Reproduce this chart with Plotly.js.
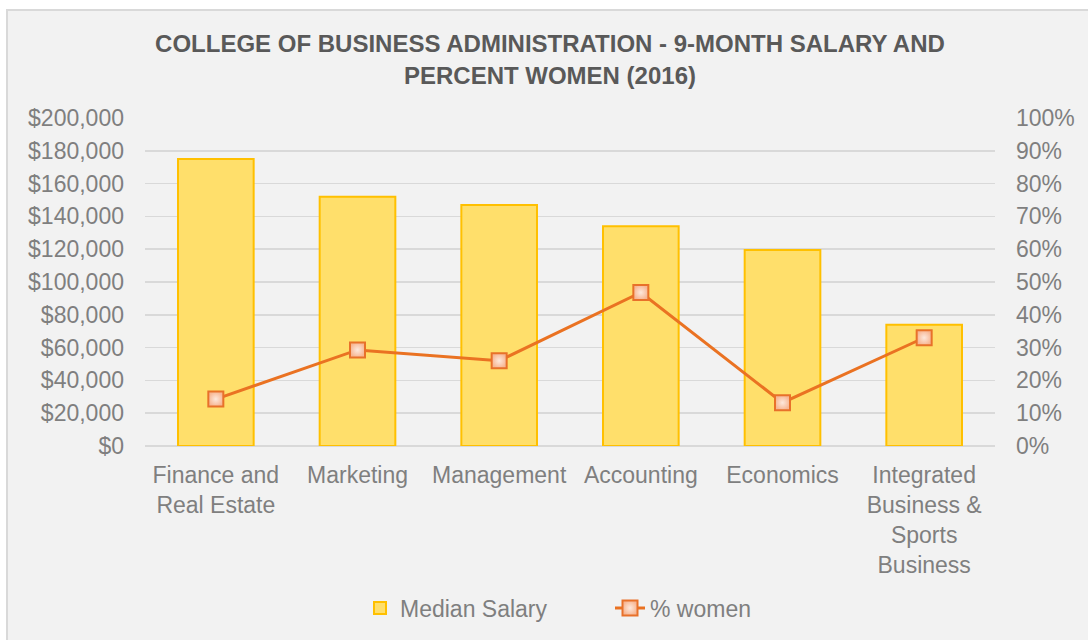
<!DOCTYPE html>
<html>
<head>
<meta charset="utf-8">
<script src="https://cdn.plot.ly/plotly-3.0.1.min.js"></script>
<style>
  html, body { margin: 0; padding: 0; background: #ffffff; width: 1088px; height: 640px; overflow: hidden; }
  #bg { position: absolute; left: 6px; top: 9px; width: 1100px; height: 660px; background: #f2f2f2; border: 2px solid #d9d9d9; box-sizing: border-box; }
  #chart { position: absolute; left: 0; top: 0; width: 1088px; height: 640px; }
</style>
</head>
<body>
<div id="bg"></div>
<div id="chart"></div>
<script>
const categories = [
  "Finance and<br>Real Estate",
  "Marketing",
  "Management",
  "Accounting",
  "Economics",
  "Integrated<br>Business &amp;<br>Sports<br>Business"
];
const medianSalary = [175000, 152000, 147000, 134000, 119500, 74000];
const pctWomen = [0.143, 0.293, 0.260, 0.468, 0.132, 0.330];

const FONT = '"Liberation Sans", Arial, sans-serif';
const GRAY = '#7f7f7f';

const traces = [
  {
    type: 'bar',
    name: 'Median Salary',
    x: categories,
    y: medianSalary,
    marker: { color: '#ffdf6b', line: { color: '#ffc000', width: 2 } },
    yaxis: 'y'
  },
  {
    type: 'scatter',
    mode: 'lines+markers',
    name: '% women',
    x: categories,
    y: pctWomen,
    yaxis: 'y2',
    line: { color: '#ea7222', width: 3 },
    marker: {
      symbol: 'square',
      size: 15,
      color: '#f7b693',
      gradient: { type: 'radial', color: '#fde8dc' },
      line: { color: '#e8712a', width: 2 }
    }
  }
];

const layout = {
  width: 1088,
  height: 640,
  paper_bgcolor: 'rgba(0,0,0,0)',
  plot_bgcolor: 'rgba(0,0,0,0)',
  margin: { l: 145, r: 93, t: 118, b: 194, autoexpand: false },
  font: { family: FONT, color: GRAY, size: 23 },
  title: {
    text: 'COLLEGE OF BUSINESS ADMINISTRATION - 9-MONTH SALARY AND<br>PERCENT WOMEN (2016)',
    font: { family: FONT, size: 24, color: '#595959', weight: 'bold' },
    xref: 'container', x: 0.5055, xanchor: 'center',
    yref: 'container', y: 0.918, yanchor: 'top'
  },
  bargap: 0.466,
  xaxis: {
    type: 'category',
    showgrid: false,
    showline: false,
    zeroline: false,
    ticks: '',
    tickfont: { family: FONT, size: 23, color: GRAY },
    ticklabelstandoff: 13,
    automargin: false
  },
  yaxis: {
    range: [0, 200000],
    dtick: 20000,
    tick0: 0,
    tickformat: '$,.0f',
    showgrid: true,
    gridcolor: '#d9d9d9',
    gridwidth: 1.5,
    zeroline: true,
    zerolinecolor: '#d9d9d9',
    zerolinewidth: 1.5,
    showline: false,
    ticks: '',
    tickfont: { family: FONT, size: 23, color: GRAY },
    ticklabelstandoff: 20,
    automargin: false,
    fixedrange: true
  },
  yaxis2: {
    overlaying: 'y',
    side: 'right',
    range: [0, 1],
    dtick: 0.1,
    tick0: 0,
    tickformat: '.0%',
    showgrid: false,
    zeroline: false,
    showline: false,
    ticks: '',
    tickfont: { family: FONT, size: 23, color: GRAY },
    ticklabelstandoff: 20,
    automargin: false
  },
  showlegend: true,
  legend: {
    orientation: 'h',
    xref: 'container', x: 360 / 1088, xanchor: 'left',
    yref: 'container', y: 0.05, yanchor: 'middle',
    font: { family: FONT, size: 23, color: GRAY },
    bgcolor: 'rgba(0,0,0,0)',
    itemwidth: 30,
    entrywidth: 205,
    entrywidthmode: 'pixels',
    traceorder: 'normal'
  }
};

Plotly.newPlot('chart', traces, layout, { displayModeBar: false, staticPlot: true });
</script>
</body>
</html>
